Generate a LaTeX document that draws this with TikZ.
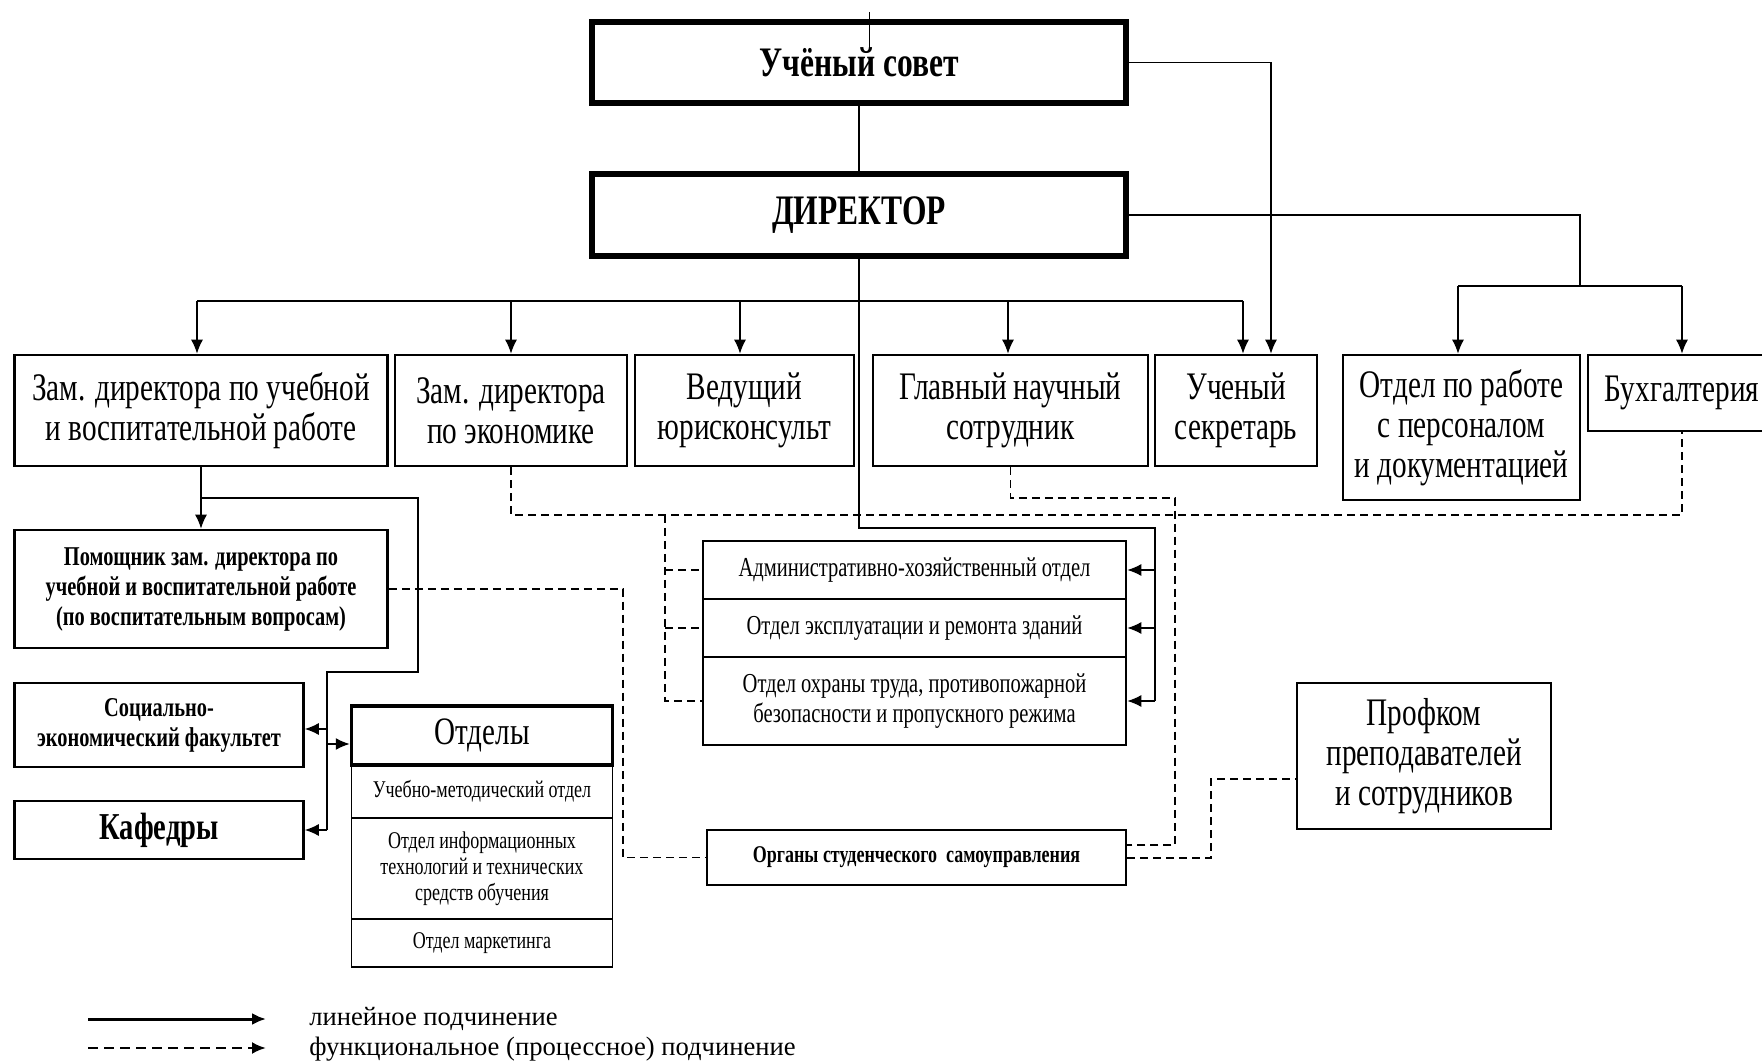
\documentclass[tikz,border=0pt]{standalone}
\usepackage{fontspec}
\setmainfont{Liberation Serif}
\newfontfamily\narrowfont[FakeStretch=0.75]{Liberation Serif}
\usetikzlibrary{arrows.meta}

\tikzset{
  wh/.style 2 args={minimum width=#1*0.5pt, minimum height=#2*0.5pt},
}

\begin{document}
\begin{tikzpicture}[x=0.5pt, y=-0.5pt,
    box/.style={draw, line width=1.25pt, align=center, inner sep=0pt,
      font=\narrowfont\fontsize{19.5}{20}\selectfont},
    topbox/.style={box, line width=3pt, font=\narrowfont\bfseries\fontsize{21}{24}\selectfont},
    boldbox/.style={box, font=\narrowfont\bfseries\fontsize{13.6}{15}\selectfont},
    midbox/.style={box, font=\narrowfont\fontsize{13.7}{15}\selectfont},
    rowbox/.style={box, line width=0.9pt, font=\narrowfont\fontsize{12}{13}\selectfont},
    link/.style={line width=0.75pt},
    arr/.style={link, -{Latex[length=7pt,width=6pt]}},
    funcline/.style={line width=0.9pt, dash pattern=on 4pt off 2.5pt},
    legtext/.style={anchor=west, inner sep=0pt, font=\fontsize{13.3}{16}\selectfont},
  ]
  \useasboundingbox (0,0) rectangle (1762,1063);

  %Nodes
  \node[topbox, wh={534}{81}] at (859,62.5) (sovet) {Учёный совет};
  \node[topbox, wh={534}{82}] at (859,215) (dir) {ДИРЕКТОР};

  \node[box, wh={373}{111}] at (201,410.5) (zamuch) {Зам. директора по учебной\\и воспитательной работе};
  \node[box, wh={232}{111}] at (511,410.5) (zamek) {Зам. директора\\по экономике};
  \node[box, wh={219}{111}] at (744.5,410.5) (jur) {Ведущий\\юрисконсульт};
  \node[box, wh={275}{111}] at (1010.5,410.5) (glav) {Главный научный\\сотрудник};
  \node[box, wh={162}{111}] at (1236,410.5) (sekr) {Ученый\\секретарь};
  \node[box, wh={237}{145}] at (1461.5,427.5) (kadr) {Отдел по работе\\с персоналом\\и документацией};
  \node[box, wh={188}{76}] at (1682,393) (buh) {Бухгалтерия};

  \node[boldbox, wh={373}{118}] at (201,589) (pom) {Помощник зам. директора по\\учебной и воспитательной работе\\(по воспитательным вопросам)};
  \node[boldbox, wh={289}{84}] at (159,725) (soc) {Социально-\\экономический факультет};
  \node[box, wh={289}{58}, font=\narrowfont\bfseries\fontsize{19}{24}\selectfont] at (159,830) (kaf) {Кафедры};

  \node[rowbox, wh={261}{53}] at (482,791.5) (otd1) {Учебно-методический отдел};
  \node[rowbox, wh={261}{101}] at (482,868.5) (otd2) {Отдел информационных\\технологий и технических\\средств обучения};
  \node[rowbox, wh={261}{48}] at (482,943) (otd3) {Отдел маркетинга};
  \node[box, line width=1.75pt, wh={261}{59}, font=\narrowfont\fontsize{19.4}{21}\selectfont] at (482,735.5) (otdh) {Отделы};

  \node[midbox, wh={423}{58}] at (914.5,570) (adm) {Административно-хозяйственный отдел};
  \node[midbox, wh={423}{58}] at (914.5,628) (ekspl) {Отдел эксплуатации и ремонта зданий};
  \node[midbox, wh={423}{88}] at (914.5,701) (ohr) {Отдел охраны труда, противопожарной\\безопасности и пропускного режима};

  \node[boldbox, wh={419}{55}, font=\narrowfont\bfseries\fontsize{12}{15}\selectfont] at (916.5,857.5) (org) {Органы студенческого\ \ самоуправления};
  \node[box, wh={254}{146}] at (1424,756) (prof) {Профком\\преподавателей\\и сотрудников};

  \node[legtext] at (309,1019) (leg1) {линейное подчинение};
  \node[legtext] at (309,1049) (leg2) {функциональное (процессное) подчинение};

  %Points
  \coordinate (s1) at (1271,64);
  \coordinate (b1) at (197,301);
  \coordinate (b2) at (511,301);
  \coordinate (b3) at (740,301);
  \coordinate (b4) at (1008,301);
  \coordinate (b5) at (1243,301);
  \coordinate (d1) at (1580,286);
  \coordinate (kL) at (1458,286);
  \coordinate (kR) at (1682,286);
  \coordinate (h1) at (859,528);
  \coordinate (h2) at (1155,528);
  \coordinate (u1) at (201,498);
  \coordinate (u2) at (418,498);
  \coordinate (u3) at (418,672);
  \coordinate (u4) at (327,672);
  \coordinate (u5) at (327,830);
  \coordinate (u6) at (327,729);
  \coordinate (u7) at (327,744);
  \coordinate (e1) at (511,515);
  \coordinate (e2) at (1682,515);
  \coordinate (e3) at (665,515);
  \coordinate (g1) at (1175,498);
  \coordinate (g2) at (1175,845);
  \coordinate (p1) at (623,589);
  \coordinate (q1) at (1211,858);
  \coordinate (q2) at (1211,779);
  \coordinate (l1a) at (88,1019);
  \coordinate (l1b) at (266,1019);
  \coordinate (l2a) at (88,1048);
  \coordinate (l2b) at (266,1048);

  %Lines
  \draw[line width=0.4pt] (869,12) -- (869,50);
  \draw[line width=0.4pt] (865,23) -- (873,23);
  \draw[link] (sovet) -- (dir);
  \draw[arr] (sovet.east) -| (s1 |- sekr.north);
  \draw[link] (b1) -- (b5);
  \draw[arr] (b1) -- (b1 |- zamuch.north);
  \draw[arr] (b2) -- (b2 |- zamek.north);
  \draw[arr] (b3) -- (b3 |- jur.north);
  \draw[arr] (b4) -- (b4 |- glav.north);
  \draw[arr] (b5) -- (b5 |- sekr.north);
  \draw[link] (dir.east) -| (d1);
  \draw[link] (kL) -- (kR);
  \draw[arr] (kL) -- (kL |- kadr.north);
  \draw[arr] (kR) -- (kR |- buh.north);
  \draw[link] (dir.south) -- (h1) -- (h2) -- (h2 |- ohr.east);
  \draw[arr] (h2 |- adm.east) -- (adm.east);
  \draw[arr] (h2 |- ekspl.east) -- (ekspl.east);
  \draw[arr] (h2 |- ohr.east) -- (ohr.east);
  \draw[arr] (zamuch) -- (pom);
  \draw[link] (u1) -- (u2) -- (u3) -- (u4) -- (u5);
  \draw[arr] (u6) -- (soc.east |- u6);
  \draw[arr] (u7) -- (otdh.west |- u7);
  \draw[arr] (u5) -- (kaf.east |- u5);

  \draw[funcline] (zamek.south) -- (e1) -- (e2) -- (buh.south -| e2);
  \draw[funcline] (e3) |- (ohr.west);
  \draw[funcline] (e3 |- adm.west) -- (adm.west);
  \draw[funcline] (e3 |- ekspl.west) -- (ekspl.west);
  \draw[funcline] (glav.south) |- (g1) -- (g2) -- (org.east |- g2);
  \draw[funcline] (pom.east) -- (p1) |- (org.west);
  \draw[funcline] (org.east |- q1) -- (q1) -- (q2) -- (prof.west |- q2);

  \draw[line width=1.5pt, -{Latex[length=7pt,width=6pt]}] (l1a) -- (l1b);
  \draw[line width=1.25pt, dash pattern=on 5pt off 3pt, -{Latex[length=7pt,width=6pt]}] (l2a) -- (l2b);
\end{tikzpicture}
\end{document}
